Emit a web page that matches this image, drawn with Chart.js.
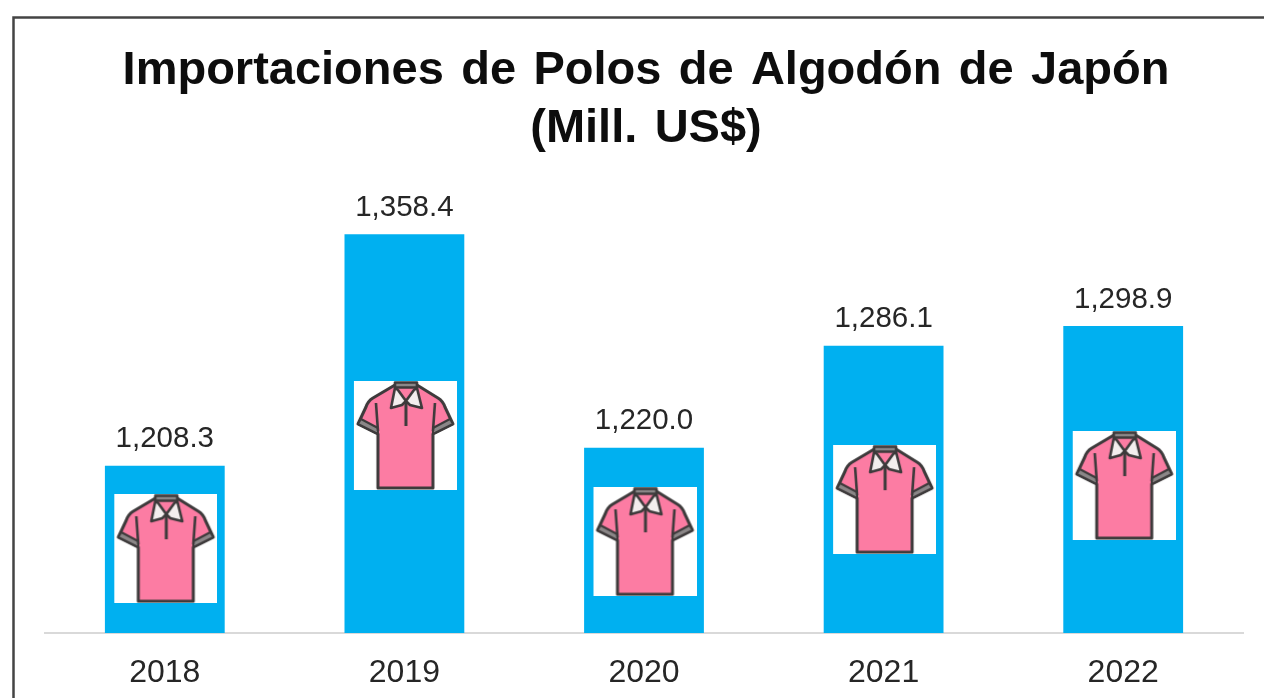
<!DOCTYPE html>
<html>
<head>
<meta charset="utf-8">
<title>Importaciones de Polos de Algodón de Japón</title>
<script src="https://cdn.jsdelivr.net/npm/chart.js@4"></script>
<style>
  html, body { margin: 0; background: #fff; overflow: hidden; }
  #wrap { position: relative; width: 1264px; height: 698px; }
  canvas { filter: blur(0.5px); }
</style>
</head>
<body>
<div id="wrap"><canvas id="chart"></canvas></div>
<script>
const titleLines = ["Importaciones de Polos de Algodón de Japón", "(Mill. US$)"]
const years = ["2018", "2019", "2020", "2021", "2022"]
const imports = [1208.3, 1358.4, 1220.0, 1286.1, 1298.9]
// height on the value axis where each shirt picture is centred
const shirtLevels = [1154.6, 1228, 1159.1, 1186.4, 1195.5]

// White tile with the pink polo, used as the point image of the shirt dataset.
// The canvas is 2px wider on the left so the tile sits 1px right of the bar centre.
function makeShirt() {
  const c = document.createElement("canvas")
  c.width = 105
  c.height = 109
  const g = c.getContext("2d")
  g.translate(2, 0)
  g.fillStyle = "#fff"
  g.fillRect(0, 0, 103, 109)
  g.lineJoin = "round"
  g.strokeStyle = "#3d3a3b"
  g.lineWidth = 3

  // body and sleeves
  g.beginPath()
  g.moveTo(41, 4)
  g.lineTo(19, 17)
  g.quadraticCurveTo(14, 20, 12, 26)
  g.lineTo(4, 43)
  g.lineTo(24, 53)
  g.lineTo(24, 107)
  g.lineTo(79, 107)
  g.lineTo(79, 53)
  g.lineTo(99, 43)
  g.lineTo(91, 26)
  g.quadraticCurveTo(89, 20, 84, 17)
  g.lineTo(63, 4)
  g.closePath()
  g.fillStyle = "#fc7ca3"
  g.fill()
  g.stroke()

  // cuffs
  g.lineWidth = 2
  g.fillStyle = "#8b8788"
  g.beginPath()
  g.moveTo(4, 43)
  g.lineTo(24, 53)
  g.lineTo(24, 47)
  g.lineTo(7, 38)
  g.closePath()
  g.fill()
  g.stroke()
  g.beginPath()
  g.moveTo(99, 43)
  g.lineTo(79, 53)
  g.lineTo(79, 47)
  g.lineTo(96, 38)
  g.closePath()
  g.fill()
  g.stroke()

  // armholes
  g.lineWidth = 2.6
  g.beginPath()
  g.moveTo(22, 22)
  g.lineTo(24, 50)
  g.moveTo(81, 22)
  g.lineTo(79, 50)
  g.stroke()

  // collar flaps around the pink neck
  g.fillStyle = "#f3eeee"
  g.beginPath()
  g.moveTo(41, 7)
  g.lineTo(37, 27)
  g.lineTo(48, 24)
  g.lineTo(52, 20)
  g.lineTo(44, 9)
  g.closePath()
  g.fill()
  g.stroke()
  g.beginPath()
  g.moveTo(63, 7)
  g.lineTo(68, 27)
  g.lineTo(56, 24)
  g.lineTo(52, 20)
  g.lineTo(60, 9)
  g.closePath()
  g.fill()
  g.stroke()

  // collar band
  g.fillStyle = "#8b8788"
  g.fillRect(41, 1.5, 22, 5)
  g.strokeRect(41, 1.5, 22, 5)

  // placket
  g.lineWidth = 3
  g.beginPath()
  g.moveTo(52, 20)
  g.lineTo(52, 45)
  g.stroke()
  return c
}

const shirtImage = makeShirt()

const framePlugin = {
  id: "frame",
  afterLayout(chart) {
    // reference title sits 2px right of the canvas centre
    chart.titleBlock.left += 4
  },
  beforeDraw(chart) {
    const ctx = chart.ctx
    ctx.save()
    ctx.strokeStyle = "#444"
    ctx.lineWidth = 2.5
    ctx.beginPath()
    ctx.moveTo(13.5, 698)
    ctx.lineTo(13.5, 17.5)
    ctx.lineTo(1264, 17.5)
    ctx.stroke()
    ctx.restore()
    // the title in the reference is justified, so its word gaps are wider
    ctx.wordSpacing = "4.3px"
  }
}

const valueLabels = {
  id: "valueLabels",
  afterDatasetsDraw(chart) {
    const ctx = chart.ctx
    const bars = chart.getDatasetMeta(1).data
    ctx.save()
    ctx.font = "29.5px 'Liberation Sans'"
    ctx.fillStyle = "#262626"
    ctx.textAlign = "center"
    ctx.textBaseline = "middle"
    bars.forEach((bar, i) => {
      const text = imports[i].toLocaleString("en-US", { minimumFractionDigits: 1 })
      ctx.fillText(text, bar.x, bar.y - 26.5)
    })
    ctx.restore()
  }
}

new Chart(document.getElementById("chart"), {
  data: {
    labels: years,
    datasets: [
      {
        type: "line",
        label: "Polos",
        data: shirtLevels,
        showLine: false,
        pointStyle: shirtImage,
        order: 0
      },
      {
        type: "bar",
        label: "Importaciones",
        data: imports,
        backgroundColor: "#00b0f0",
        barPercentage: 0.5,
        categoryPercentage: 1,
        order: 1
      }
    ]
  },
  options: {
    responsive: true,
    maintainAspectRatio: false,
    animation: false,
    layout: { padding: { left: 45, right: 21, top: 0, bottom: 0 } },
    plugins: {
      legend: { display: false },
      tooltip: { enabled: false },
      title: {
        display: true,
        text: titleLines,
        color: "#0d0d0d",
        font: { family: "'Liberation Sans'", size: 47, weight: "bold", lineHeight: 58 / 47 },
        padding: { top: 42, bottom: 12 }
      }
    },
    scales: {
      x: {
        grid: { display: false, drawTicks: false },
        border: { color: "#d9d9d9", width: 2 },
        ticks: {
          color: "#262626",
          font: { family: "'Liberation Sans'", size: 32 },
          padding: 21
        },
        afterFit(scale) { scale.height = 65 }
      },
      y: {
        display: false,
        min: 1100,
        max: 1400
      }
    }
  },
  plugins: [framePlugin, valueLabels]
})
</script>
</body>
</html>
